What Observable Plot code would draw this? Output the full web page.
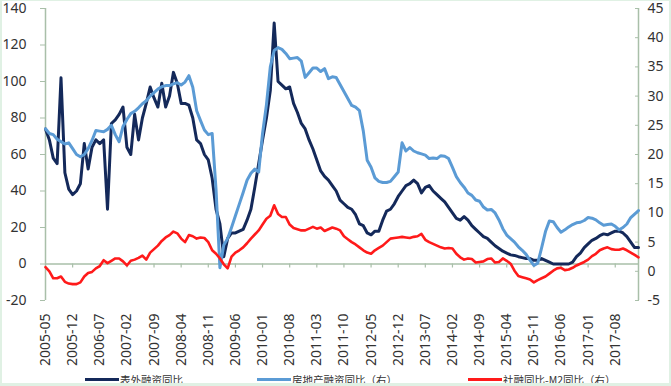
<!DOCTYPE html>
<html><head><meta charset="utf-8">
<script src="https://cdn.jsdelivr.net/npm/d3@7"></script>
<script src="https://cdn.jsdelivr.net/npm/@observablehq/plot@0.6"></script>
<style>
html,body{margin:0;padding:0;background:#fff;}
#wrap{position:relative;width:671px;height:386px;overflow:hidden;background:#fff;font-family:"Noto Sans","Noto Sans CJK SC",sans-serif;}
#frame{position:absolute;left:0;top:0;width:671px;height:386px;box-sizing:border-box;border:2px solid #e0f1e4;border-top-width:1px;border-bottom-width:3px;pointer-events:none;}
#legend{position:absolute;left:0;top:372px;width:671px;height:14px;}
.item{position:absolute;top:0;display:flex;align-items:center;height:14px;font-family:"Noto Sans CJK SC",sans-serif;font-size:10.5px;color:#333;white-space:nowrap;}
.sw{display:inline-block;width:34px;height:3px;margin-right:1px;}
</style></head><body><div id="wrap"><div id="chart"></div><div id="legend"></div><div id="frame"></div></div>
<script>
// categories: monthly from 2005-05 to 2018-02
const months = [];
for (let i = 0; i < 154; i++) {
  const y = 2005 + Math.floor((4 + i) / 12);
  const m = (4 + i) % 12 + 1;
  months.push(`${y}-${String(m).padStart(2, "0")}`);
}
const tickMonths = months.filter((d, i) => i % 7 === 0);
const leftTicks = [-20, 0, 20, 40, 60, 80, 100, 120, 140];
const rightTicks = [-5, 0, 5, 10, 15, 20, 25, 30, 35, 40, 45];

const seriesNames = ["表外融资同比", "房地产融资同比（右）", "社融同比-M2同比（右）"];
const seriesColors = ["#14295a", "#5b9bd5", "#ff1a1a"];

// 表外融资同比 (left axis)
const offBalance = [74,68,58,55,102,50,41,38,40,44, 66,52,64,68,66,68,30,77,79,82, 86,64,60,82,68,80,88,97,91,86, 99,86,92,105,99,88,88,87,80,68, 66,60,57,47,30,22,4,14,17,17, 18,19,24,30,42,55,68,80,95,132, 100,98,96,97,88,83,77,74,68,63, 57,51,48,46,43,40,35,33,31,30, 27,22,21,17,16,18,18,24,29,30, 33,37,40,43,44,46,44,39,42,43, 40,38,36,34,31,28,25,24,26,24, 21,19,17,15,14,12,10,8.5,7,6, 5,4.7,4,3.5,3,3,2,2,3,2, 1,0,0,0,0,0,1,4,6,9, 11,13,14,15.5,16.5,16,17,18,18,17, 15,12,9,9];
// 房地产融资同比（右）
const realEstate = [24.4,23.6,23.4,22.6,22.2,21.8,22,21,20,19.6, 20,21,22.4,24.1,24,23.9,24.3,25,23.4,22.2, 24.8,26,27,27.4,28,28.7,29.2,30,30.6,31.2, 31.6,31.8,31.8,32.1,32.3,31.9,32.4,33.5,31.5,27.5, 25.8,24.2,23.4,23.6,14,0.6,4.5,5.6,7.5,9.5, 11.5,13.5,15.6,16.8,17.5,17,23.6,28.5,35,37.8, 38.3,38,37.3,36.4,36.5,36.6,36,33.2,34,34.8, 34.8,34.2,34.7,33,33.3,33.2,32,30.8,29.6,28.4, 28.1,27.5,24,19,17.8,16,15.4,15.2,15.2,15.4, 16.2,17,22,20.6,21.2,20.6,20.3,20.1,19.9,19.3, 19.4,19.3,19.8,19.7,19.3,17.8,16.2,15.2,14.4,13.4, 13,12.2,12,11,10.5,10.6,10,8.8,7.3,6.2, 5.6,5,4.2,3.6,2.9,1.9,1,1.4,4,6.8, 8.6,8.5,7.5,6.7,7.1,7.6,8,8.3,8.4,8.7, 9.2,9.1,8.8,8.3,7.9,8,8.1,7.7,7.1,7.5, 8.1,9.2,9.8,10.4];
// 社融同比-M2同比（右）
const tsfM2 = [0.7,0,-1.2,-1.2,-0.9,-1.8,-2.1,-2.2,-2.2,-1.9, -0.9,-0.3,-0.1,0.5,0.9,1.9,1.4,1.8,2.2,2.2, 1.7,1,1.8,2,2.3,2.7,2,3.2,3.8,4.4, 5.2,5.8,6.2,6.8,6.5,5.6,5,6.2,6,5.6, 5.8,5.7,5,3.6,3,2.2,1.2,0.5,2.5,3.2, 3.6,4.1,4.8,5.6,6.3,7,8,9,9.5,11.3, 9.8,9.3,9.3,8,7.4,7.2,7,7,7.3,7.6, 7.3,7.5,6.9,7.2,7.5,7.3,7,6,5.5,5, 4.6,4.1,3.6,3.2,3,3.6,4,4.4,5,5.6, 5.7,5.8,5.9,5.8,5.7,5.9,6,6.4,5.4,5, 4.7,4.4,4.1,3.9,4,3.9,3,2.4,2,2.2, 2.1,1.5,1.6,1.7,2.1,2.2,1.5,1.6,2.2,1.8, 1.3,0.1,-0.8,-1,-1.2,-1.4,-1.9,-1.5,-1.2,-0.9, -0.4,0.1,0.5,0.6,0.2,0.3,0.6,1,1.3,1.6, 2,2.6,3,3.6,3.9,4.1,3.8,3.7,3.7,3.9, 3.6,3.2,2.8,2.4];

const toLeft = d3.scaleLinear([-5, 45], [-20, 140]);
const axisColor = "#a9bfa9";

const darkRows = months.map((m, i) => ({ m, v: offBalance[i] }));
const blueRows = months.map((m, i) => ({ m, v: toLeft(realEstate[i]) }));
const redRows = months.map((m, i) => ({ m, v: toLeft(tsfM2[i]) }));

const chart = Plot.plot({
  width: 671, height: 372,
  marginLeft: 45, marginRight: 33, marginTop: 8, marginBottom: 72,
  style: { fontFamily: '"Noto Sans", sans-serif', fontSize: "14px", color: "#333", background: "transparent", overflow: "visible" },
  x: { type: "point", domain: months, padding: 0, axis: null, label: null },
  y: { domain: [-20, 140], axis: null, label: null },
  marks: [
    Plot.ruleY([0], { stroke: axisColor, strokeWidth: 1.5 }),
    Plot.ruleX([months[0], months[months.length - 1]], { y1: -20, y2: 140, stroke: axisColor, strokeWidth: 1.5 }),
    Plot.ruleX(tickMonths.slice(1), { y1: 0, y2: -2.2, stroke: axisColor, strokeWidth: 1.2 }),
    Plot.axisY({ anchor: "left", label: null, ticks: leftTicks, tickFormat: d => String(d), tickSize: 5, tickPadding: 14, stroke: axisColor, fill: "#333", fontSize: 14 }),
    Plot.axisY({ anchor: "right", label: null, ticks: rightTicks.map(toLeft), tickFormat: d => String(Math.round(toLeft.invert(d))), tickSize: -4, tickPadding: 13, stroke: axisColor, fill: "#333", fontSize: 14 }),
    Plot.axisX({ label: null, ticks: tickMonths, tickRotate: -90, tickSize: 0, tickPadding: 13, fill: "#333", fontSize: 14 }),
    Plot.lineY(darkRows, { x: "m", y: "v", stroke: seriesColors[0], strokeWidth: 3 }),
    Plot.lineY(blueRows, { x: "m", y: "v", stroke: seriesColors[1], strokeWidth: 3 }),
    Plot.lineY(redRows, { x: "m", y: "v", stroke: seriesColors[2], strokeWidth: 2.6 })
  ]
});
document.getElementById("chart").appendChild(chart);

const legendLefts = [85, 257, 468];
const legend = document.getElementById("legend");
seriesNames.forEach((name, i) => {
  const it = document.createElement("div");
  it.className = "item";
  it.style.left = legendLefts[i] + "px";
  const sw = document.createElement("span");
  sw.className = "sw";
  sw.style.background = seriesColors[i];
  const tx = document.createElement("span");
  tx.textContent = name;
  it.appendChild(sw); it.appendChild(tx);
  legend.appendChild(it);
});
</script></body></html>
